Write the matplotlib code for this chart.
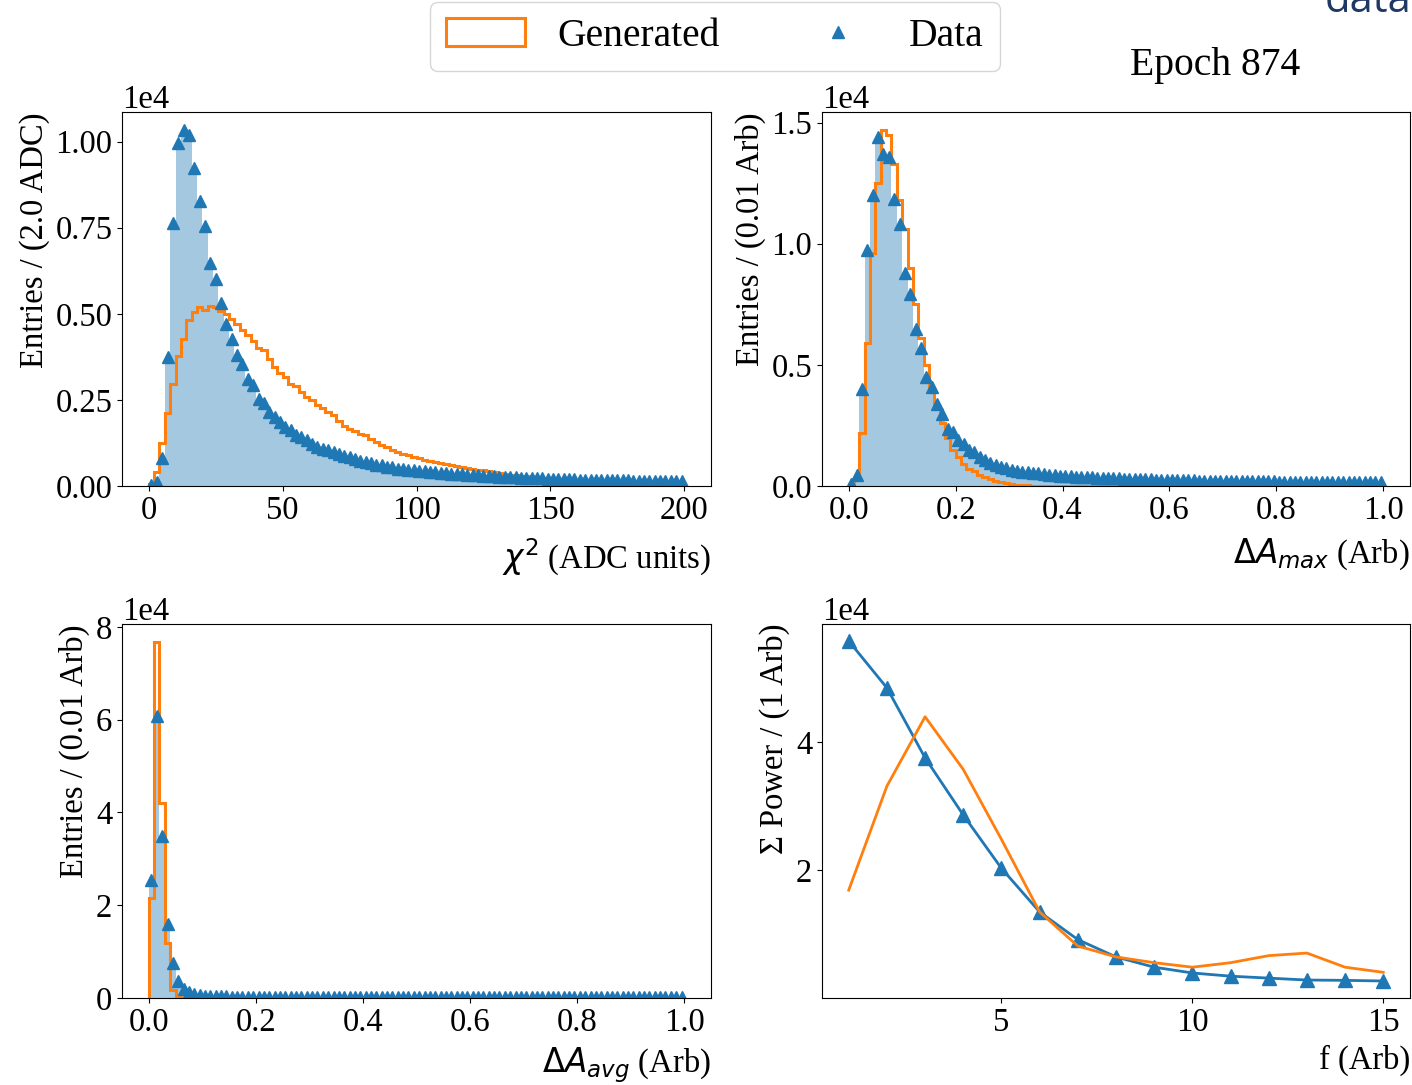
import matplotlib
matplotlib.use("Agg")
import matplotlib.pyplot as plt
import numpy as np

plt.rcParams["font.family"] = ["Liberation Serif", "DejaVu Sans"]
plt.rcParams["font.size"] = 23.5
plt.rcParams["mathtext.fontset"] = "dejavusans"

# chi2 histograms, 100 bins of 2 ADC from 0 to 200, values in units of 1e4 entries
chi2_edges = np.linspace(0, 200, 101)
chi2_data = [
    0.003, 0.012, 0.080, 0.374, 0.764, 0.995, 1.034, 1.019, 0.923, 0.827,
    0.754, 0.648, 0.600, 0.530, 0.470, 0.427, 0.379, 0.355, 0.311, 0.292,
    0.253, 0.240, 0.215, 0.200, 0.186, 0.171, 0.162, 0.147, 0.143, 0.133,
    0.123, 0.114, 0.108, 0.104, 0.098, 0.094, 0.088, 0.084, 0.078, 0.074,
    0.069, 0.067, 0.062, 0.060, 0.056, 0.054, 0.050, 0.049, 0.047, 0.046,
    0.044, 0.043, 0.041, 0.040, 0.039, 0.037, 0.036, 0.035, 0.034, 0.033,
    0.032, 0.031, 0.030, 0.029, 0.028, 0.027, 0.026, 0.026, 0.025, 0.024,
    0.024, 0.023, 0.022, 0.022, 0.021, 0.021, 0.020, 0.020, 0.019, 0.019,
    0.018, 0.018, 0.018, 0.017, 0.017, 0.017, 0.016, 0.016, 0.016, 0.016,
    0.015, 0.015, 0.015, 0.015, 0.015, 0.014, 0.014, 0.014, 0.014, 0.014,
]
chi2_gen = [
    0.005, 0.041, 0.124, 0.212, 0.297, 0.377, 0.428, 0.483, 0.504, 0.520,
    0.511, 0.523, 0.519, 0.507, 0.500, 0.486, 0.471, 0.454, 0.438, 0.422,
    0.402, 0.396, 0.370, 0.346, 0.327, 0.317, 0.296, 0.290, 0.274, 0.259,
    0.250, 0.235, 0.226, 0.215, 0.205, 0.190, 0.175, 0.165, 0.160, 0.152,
    0.147, 0.135, 0.127, 0.118, 0.112, 0.105, 0.099, 0.094, 0.090, 0.085,
    0.080, 0.076, 0.072, 0.069, 0.066, 0.063, 0.061, 0.057, 0.054, 0.051,
    0.049, 0.047, 0.046, 0.043, 0.040, 0.037, 0.035, 0.033, 0.031, 0.030,
    0.028, 0.027, 0.025, 0.024, 0.022, 0.021, 0.019, 0.018, 0.017, 0.016,
    0.015, 0.014, 0.013, 0.013, 0.012, 0.012, 0.012, 0.011, 0.011, 0.011,
    0.011, 0.010, 0.010, 0.010, 0.010, 0.010, 0.009, 0.009, 0.009, 0.009,
]

# delta A max, 100 bins of 0.01 from 0 to 1
amax_edges = np.linspace(0, 1, 101)
amax_data = [
    0.010, 0.045, 0.400, 0.974, 1.200, 1.439, 1.370, 1.357, 1.186, 1.083,
    0.878, 0.792, 0.646, 0.571, 0.448, 0.407, 0.339, 0.298, 0.236, 0.223,
    0.189, 0.175, 0.148, 0.141, 0.120, 0.107, 0.095, 0.086, 0.079, 0.073,
    0.068, 0.063, 0.059, 0.056, 0.054, 0.052, 0.049, 0.047, 0.045, 0.043,
    0.041, 0.040, 0.039, 0.038, 0.037, 0.036, 0.035, 0.034, 0.033, 0.032,
    0.031, 0.030, 0.030, 0.029, 0.028, 0.028, 0.027, 0.026, 0.026, 0.025,
    0.025, 0.024, 0.024, 0.023, 0.023, 0.022, 0.022, 0.022, 0.021, 0.021,
    0.021, 0.020, 0.020, 0.020, 0.020, 0.019, 0.019, 0.019, 0.019, 0.019,
    0.018, 0.018, 0.018, 0.018, 0.018, 0.017, 0.017, 0.017, 0.017, 0.017,
    0.017, 0.016, 0.016, 0.016, 0.016, 0.016, 0.016, 0.016, 0.015, 0.015,
]
amax_gen = [
    0.010, 0.030, 0.220, 0.590, 0.960, 1.250, 1.470, 1.450, 1.330, 1.180,
    1.060, 0.900, 0.750, 0.610, 0.500, 0.400, 0.330, 0.260, 0.200, 0.150,
    0.120, 0.090, 0.070, 0.060, 0.046, 0.038, 0.028, 0.022, 0.016, 0.011,
    0.007, 0.005, 0.004, 0.003, 0.002, 0.002, 0.001, 0.001, 0.001, 0.001,
] + [0.0] * 60

# delta A avg, 100 bins of 0.01 from 0 to 1
aavg_edges = np.linspace(0, 1, 101)
aavg_data = [
    2.55, 6.08, 3.49, 1.59, 0.76, 0.37, 0.20, 0.12, 0.08, 0.06,
    0.05, 0.045, 0.04, 0.036, 0.033, 0.03, 0.028, 0.026, 0.025, 0.024,
    0.023, 0.022, 0.021, 0.021, 0.020, 0.020, 0.019, 0.019, 0.019, 0.018,
    0.018, 0.018, 0.018, 0.017, 0.017, 0.017, 0.017, 0.017, 0.016, 0.016,
    0.016, 0.016, 0.016, 0.016, 0.016, 0.015, 0.015, 0.015, 0.015, 0.015,
    0.015, 0.015, 0.015, 0.015, 0.015, 0.015, 0.014, 0.014, 0.014, 0.014,
    0.014, 0.014, 0.014, 0.014, 0.014, 0.014, 0.014, 0.014, 0.014, 0.014,
    0.014, 0.014, 0.014, 0.014, 0.014, 0.014, 0.014, 0.013, 0.013, 0.013,
    0.013, 0.013, 0.013, 0.013, 0.013, 0.013, 0.013, 0.013, 0.013, 0.013,
    0.013, 0.013, 0.013, 0.013, 0.013, 0.013, 0.013, 0.013, 0.013, 0.013,
]
aavg_gen = [2.15, 7.68, 4.21, 1.18, 0.17, 0.03, 0.01] + [0.0] * 93

# summed power spectrum, units of 1e4
freq = [1, 2, 3, 4, 5, 6, 7, 8, 9, 10, 11, 12, 13, 14, 15]
power_data = [5.57, 4.84, 3.75, 2.86, 2.03, 1.35, 0.92, 0.65, 0.49, 0.40,
              0.35, 0.32, 0.29, 0.285, 0.275]
power_gen = [1.69, 3.31, 4.39, 3.57, 2.48, 1.35, 0.82, 0.65, 0.56, 0.49,
             0.56, 0.67, 0.71, 0.49, 0.41]

SCALE = 1e4
BLUE = "#1f77b4"
ORANGE = "#ff7f0e"
W, H = 1412, 1085


def _axes_rect(left, top, right, bottom):
    return [left / W, 1 - bottom / H, (right - left) / W, (bottom - top) / H]


def _label(ax, xlabel, ylabel, pad):
    ax.set_xlabel(xlabel, loc="right", labelpad=pad)
    ax.set_ylabel(ylabel, loc="top")
    ax.ticklabel_format(axis="y", style="sci", scilimits=(0, 0))


def _hist_panel(ax, edges, data, gen, xlabel, ylabel, pad=7.5):
    edges = np.asarray(edges)
    centers = 0.5 * (edges[:-1] + edges[1:])
    data = np.asarray(data) * SCALE
    gen = np.asarray(gen) * SCALE
    ax.hist(centers, bins=edges, weights=data, color=BLUE, alpha=0.4)
    _, _, gen_patch = ax.hist(centers, bins=edges, weights=gen,
                              histtype="step", color=ORANGE, lw=2.2)
    (data_line,) = ax.plot(centers, data, "^", color=BLUE, ms=9)
    _label(ax, xlabel, ylabel, pad)
    return gen_patch[0], data_line


fig = plt.figure(figsize=(W / 100, H / 100), dpi=100)
ax1 = fig.add_axes(_axes_rect(122, 112, 711, 486))
ax2 = fig.add_axes(_axes_rect(822, 112, 1410, 486))
ax3 = fig.add_axes(_axes_rect(122, 624, 711, 998))
ax4 = fig.add_axes(_axes_rect(822, 624, 1410, 998))

gen_handle, data_handle = _hist_panel(
    ax1, chi2_edges, chi2_data, chi2_gen,
    r"$\chi^2$ (ADC units)", "Entries / (2.0 ADC)")
_hist_panel(ax2, amax_edges, amax_data, amax_gen,
            r"$\Delta A_{max}$ (Arb)", "Entries / (0.01 Arb)")
_hist_panel(ax3, aavg_edges, aavg_data, aavg_gen,
            r"$\Delta A_{avg}$ (Arb)", "Entries / (0.01 Arb)", pad=5)

ax4.plot(freq, np.asarray(power_data) * SCALE, "^-", color=BLUE, lw=2, ms=9.5)
ax4.plot(freq, np.asarray(power_gen) * SCALE, "-", color=ORANGE, lw=2)
ax4.set_xticks([5, 10, 15])
_label(ax4, "f (Arb)", "\u03a3 Power / (1 Arb)", 5)

fig.legend([gen_handle, data_handle], ["Generated", "Data"],
           loc="upper center", bbox_to_anchor=(715 / W, 0.998), ncol=2,
           fontsize=28.5, borderaxespad=0)
fig.text(1215 / W, 1 - 66 / H, "Epoch 874", ha="center", va="center",
         fontsize=28.5)
fig.text(1325 / W, 1 - 12 / H, "data", ha="left", va="baseline",
         fontsize=30, color="#1f3864", family=["Open Sans", "DejaVu Sans"])

fig.savefig("out.png", dpi=100)
